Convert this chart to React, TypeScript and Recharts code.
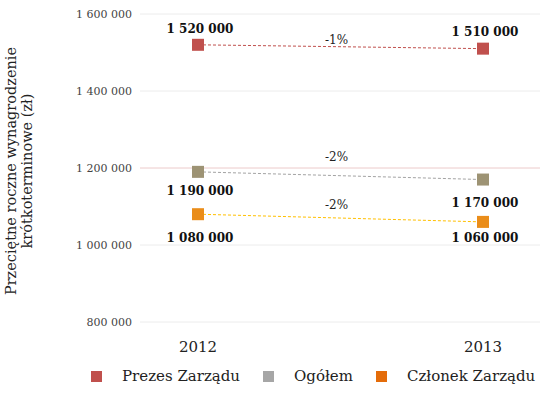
import React from "react";
import {
  LineChart,
  Line,
  XAxis,
  YAxis,
  CartesianGrid,
  ReferenceLine,
  ReferenceDot,
  Legend,
} from "recharts";

const YEARS = ["2012", "2013"];
const PREZES = [1520000, 1510000];
const OGOLEM = [1190000, 1170000];
const CZLONEK = [1080000, 1060000];
const Y_TICKS = [800000, 1000000, 1200000, 1400000, 1600000];
const CHANGES = ["-1%", "-2%", "-2%"];

const FONT = "'DejaVu Serif', Georgia, serif";

const SERIES = [
  { key: "prezes", name: "Prezes Zarządu", values: PREZES, marker: "#c0504d", line: "#c0504d", legend: "#c0504d", labelDy: [-12, -13], change: CHANGES[0], changeDy: -3 },
  { key: "ogolem", name: "Ogółem", values: OGOLEM, marker: "#9d9374", line: "#a3a3a3", legend: "#a6a6a6", labelDy: [23, 27], change: CHANGES[1], changeDy: -15 },
  { key: "czlonek", name: "Członek Zarządu", values: CZLONEK, marker: "#ea8d1a", line: "#ffc000", legend: "#e46c0a", labelDy: [28, 20], change: CHANGES[2], changeDy: -9 },
];

const data = YEARS.map((year, i) => ({
  x: i,
  year,
  prezes: PREZES[i],
  ogolem: OGOLEM[i],
  czlonek: CZLONEK[i],
}));

const fmt = (n: number) => String(n).replace(/\B(?=(\d{3})+(?!\d))/g, " ");

const squareDot = (color: string) => (props: any) => {
  const { cx, cy, index } = props;
  return <rect key={index} x={cx - 6} y={cy - 6} width={12} height={12} fill={color} />;
};

const valueLabel = (dys: number[]) => (props: any) => {
  const { x, y, value, index } = props;
  return (
    <text
      key={index}
      x={x + 2}
      y={y + dys[index]}
      textAnchor="middle"
      fontFamily={FONT}
      fontSize={12}
      fontWeight="bold"
      fill="#111"
    >
      {fmt(value)}
    </text>
  );
};

const YLabel = () => (
  <g>
    <text
      transform="translate(16,171) rotate(-90)"
      textAnchor="middle"
      fontFamily={FONT}
      fontSize={14.5}
      fill="#222"
    >
      Przeciętne roczne wynagrodzenie
    </text>
    <text
      transform="translate(32,171) rotate(-90)"
      textAnchor="middle"
      fontFamily={FONT}
      fontSize={14.5}
      fill="#222"
    >
      krótkoterminowe (zł)
    </text>
  </g>
);

const LegendContent = () => (
  <div
    style={{
      display: "flex",
      alignItems: "center",
      paddingLeft: 91,
      paddingTop: 11,
      fontFamily: FONT,
      fontSize: 15,
      color: "#222",
    }}
  >
    {SERIES.map((s, i) => (
      <div key={s.key} style={{ display: "flex", alignItems: "center", marginRight: i < 2 ? 23 : 0 }}>
        <span style={{ display: "inline-block", width: 11, height: 11, background: s.legend, marginRight: 20 }} />
        <span>{s.name}</span>
      </div>
    ))}
  </div>
);

export default function App() {
  return (
    <div style={{ position: "absolute", left: 0, top: 0, width: 540, height: 397, background: "#fff" }}>
      <LineChart width={540} height={397} data={data} margin={{ top: 14, right: 0, bottom: 6, left: 0 }}>
        <CartesianGrid vertical={false} stroke="#ececec" />
        <ReferenceLine y={1200000} stroke="#f6d4d4" />
        <XAxis
          dataKey="x"
          type="number"
          domain={[0, 1]}
          ticks={[0, 1]}
          padding={{ left: 58, right: 57 }}
          tickFormatter={(v: number) => YEARS[v]}
          axisLine={false}
          tickLine={false}
          height={34}
          tick={{ fontFamily: FONT, fontSize: 15, fill: "#222" }}
          dy={11}
        />
        <YAxis
          domain={[800000, 1600000]}
          ticks={Y_TICKS}
          tickFormatter={fmt}
          axisLine={false}
          tickLine={false}
          width={140}
          tick={{ fontFamily: FONT, fontSize: 11, fill: "#444" }}
          label={<YLabel />}
        />
        {SERIES.map((s) => (
          <Line
            key={s.key}
            dataKey={s.key}
            name={s.name}
            stroke={s.line}
            strokeWidth={1}
            strokeDasharray="3 2"
            dot={squareDot(s.marker)}
            activeDot={false}
            label={valueLabel(s.labelDy)}
            isAnimationActive={false}
          />
        ))}
        {SERIES.map((s) => (
          <ReferenceDot
            key={"c" + s.key}
            x={0.5}
            y={(s.values[0] + s.values[1]) / 2}
            r={0}
            shape={(p: any) => (
              <text
                x={p.cx - 4}
                y={p.cy + s.changeDy}
                textAnchor="middle"
                fontFamily={FONT}
                fontSize={12}
                fill="#222"
              >
                {s.change}
              </text>
            )}
          />
        ))}
        <Legend verticalAlign="bottom" height={35} content={<LegendContent />} />
      </LineChart>
    </div>
  );
}
